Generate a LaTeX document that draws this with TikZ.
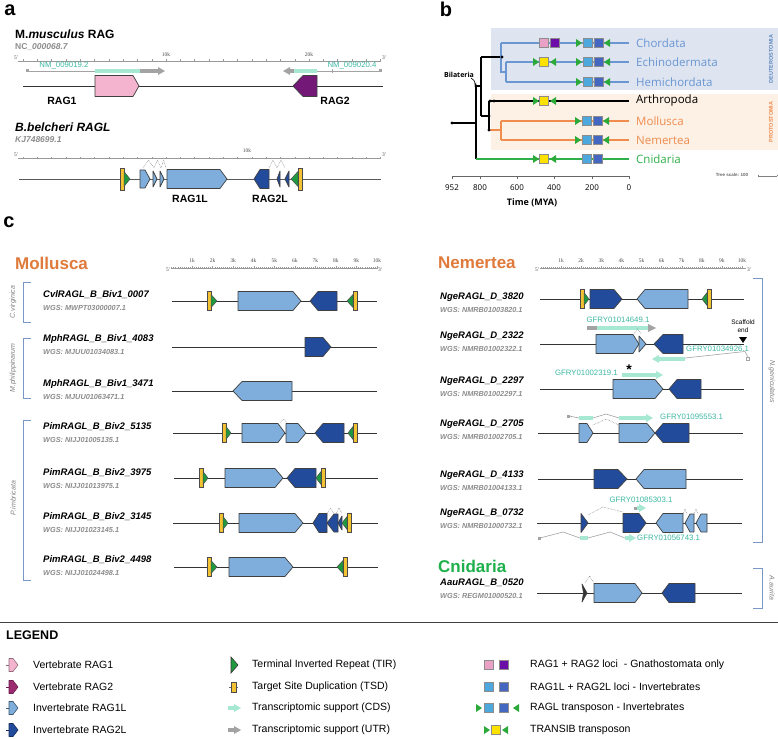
\documentclass[tikz,border=0pt]{standalone}
\usepackage{fontspec}
\setmainfont{Liberation Sans}
\newfontfamily\osans{Open Sans}
\newfontfamily\serf{Liberation Serif}
\usetikzlibrary{arrows.meta}
\definecolor{lb}{HTML}{7FAEDC}
\definecolor{db}{HTML}{234B9B}
\definecolor{pinkg}{HTML}{F4B4D0}
\definecolor{purpg}{HTML}{731877}
\definecolor{rag2i}{HTML}{9B2A6E}
\definecolor{tirg}{HTML}{1F9A3E}
\definecolor{tsdy}{HTML}{F2C233}
\definecolor{tealb}{HTML}{A6E8D2}
\definecolor{tealt}{HTML}{3DB8A2}
\definecolor{grb}{HTML}{A3A3A3}
\definecolor{sqlb}{HTML}{4CA8DD}
\definecolor{sqdb}{HTML}{4468C2}
\definecolor{sqpk}{HTML}{E9A1C8}
\definecolor{sqpu}{HTML}{6B0FA8}
\definecolor{sqye}{HTML}{FFE100}
\definecolor{trg}{HTML}{2BAA3A}
\definecolor{deut}{HTML}{6A96D2}
\definecolor{prot}{HTML}{EF8C4E}
\definecolor{cnid}{HTML}{30B04A}
\definecolor{bgb}{HTML}{DEE5F1}
\definecolor{bgo}{HTML}{FDF0E5}
\definecolor{moll}{HTML}{E07A3A}
\definecolor{cnidh}{HTML}{1DB04B}
\definecolor{brk}{HTML}{7B97C8}
\newcommand{\fsz}[1]{\fontsize{#1}{#1}\selectfont}
\newcommand{\gR}[6]{\draw[gb,fill=#6] ({#1},{#4-#5}) -- ({#3},{#4-#5}) -- ({#2},{#4}) -- ({#3},{#4+#5}) -- ({#1},{#4+#5}) -- cycle;}
\newcommand{\gL}[6]{\draw[gb,fill=#6] ({#1},{#4}) -- ({#3},{#4-#5}) -- ({#2},{#4-#5}) -- ({#2},{#4+#5}) -- ({#3},{#4+#5}) -- cycle;}
\newcommand{\tirR}[4]{\draw[tirst] ({#1},{#3-#4}) -- ({#2},{#3}) -- ({#1},{#3+#4}) -- cycle;}
\newcommand{\tirL}[4]{\draw[tirst] ({#2},{#3-#4}) -- ({#1},{#3}) -- ({#2},{#3+#4}) -- cycle;}
\newcommand{\tsdB}[4]{\draw[tsdst] ({#1},{#3-#4}) rectangle ({#2},{#3+#4});}
\newcommand{\hatD}[4]{\draw[hatst] ({#1},{#3}) -- ({(#1+#2)/2},{#4}) -- ({#2},{#3});}
\newcommand{\sqM}[3]{\draw[sqst,fill=#3] ({#1-4.6},{#2-4.6}) rectangle ({#1+4.6},{#2+4.6});}
\newcommand{\trMR}[2]{\fill[trg] ({#1-3},{#2-4}) -- ({#1+3},{#2}) -- ({#1-3},{#2+4}) -- cycle;}
\newcommand{\trML}[2]{\fill[trg] ({#1+3},{#2-4}) -- ({#1-3},{#2}) -- ({#1+3},{#2+4}) -- cycle;}
\newcommand{\tarR}[4]{\fill[#4] ({#1},{#3-1.8}) rectangle ({#2-7},{#3+1.8}); \fill[#4] ({#2-7},{#3-4}) -- ({#2},{#3}) -- ({#2-7},{#3+4}) -- cycle;}
\newcommand{\tarL}[4]{\fill[#4] ({#1+7},{#3-1.8}) rectangle ({#2},{#3+1.8}); \fill[#4] ({#1+7},{#3-4}) -- ({#1},{#3}) -- ({#1+7},{#3+4}) -- cycle;}
\newcommand{\glab}[5]{\node[glabst] (#1) at (#2,#3) {#4}; \node[wgsst] (#1w) at ({#2},{#3+12.5}) {#5};}
\newcommand{\gline}[3]{\draw[glst] ({#1},{#3}) -- ({#2},{#3});}
\begin{document}
\begin{tikzpicture}[x=1pt,y=-1pt,
  gb/.style={draw=black!75,line width=0.7pt,line join=round},
  tirst/.style={draw=black!70,line width=0.5pt,fill=tirg,line join=round},
  tsdst/.style={draw=black!70,line width=0.5pt,fill=tsdy},
  hatst/.style={draw=black!55,line width=0.5pt,densely dotted},
  sqst/.style={draw=black!45,line width=0.5pt},
  glst/.style={draw=black!80,line width=0.8pt},
  glabst/.style={anchor=west,font=\bfseries\itshape\fsz{9.5},inner sep=0pt},
  wgsst/.style={anchor=west,font=\bfseries\itshape\fsz{7.3},text=black!45,inner sep=0pt},
  tlab/.style={font=\fsz{7.8},text=tealt,inner sep=0pt},
  brkst/.style={draw=brk,line width=0.8pt},
  brklab/.style={font=\itshape\fsz{7},text=black!50,inner sep=0pt},
  treel/.style={anchor=west,font=\osans\fsz{11.5},inner sep=0pt},
  legt/.style={anchor=west,font=\fsz{10.5},inner sep=0pt},
  hdr/.style={font=\bfseries\fsz{20},inner sep=0pt},
  rul/.style={draw=black!40,line width=0.4pt},
  rlab/.style={font=\serf\fsz{5.5},text=black!70,inner sep=0pt}
]
\useasboundingbox (0,0) rectangle (778,738);
\fill[white] (0,0) rectangle (778,738);

%% ================= panel a
\node[hdr] (pa) at (10,10) {a};
\node[anchor=west,font=\bfseries\fsz{12},inner sep=0pt] (mm) at (15,34) {M.\textit{musculus} RAG};
\node[anchor=west,font=\bfseries\fsz{8.5},text=black!45,inner sep=0pt] (nc) at (15,47.5) {NC\_\textit{000068.7}};
\draw[rul] (18,61) -- (381,61);
\foreach \i in {0,...,25} \draw[rul] ({23+\i*14.3},61) -- ({23+\i*14.3},59.5);
\node[rlab] (a5) at (16,58) {5'};
\node[rlab] (a3) at (384,58) {3'};
\node[rlab] (a10) at (166,55) {10k};
\node[rlab] (a20) at (309,55) {20k};
% transcripts
\draw[grb,line width=0.7pt] (27,71) -- (95,71);
\fill[grb] (26,69.5) rectangle (29,72.5);
\fill[tealb] (95,69.2) rectangle (140,72.8);
\tarR{140}{165}{71}{grb}
\node[tlab] (nm1) at (64,66) {NM\_009019.2};
\tarL{283}{294}{71}{grb}
\fill[tealb] (294,69.2) rectangle (317,72.8);
\draw[grb,line width=0.7pt] (317,71) -- (380,71);
\draw[grb,line width=0.7pt] (332,69) -- (332,73);
\fill[grb] (378.5,69.5) rectangle (381.5,72.5);
\node[tlab] (nm2) at (352,66) {NM\_009020.4};
\gline{23}{383}{86}
\gR{95}{139}{133}{86}{10.5}{pinkg}
\gL{293}{317}{303}{86}{10.5}{purpg}
\node[font=\bfseries\fsz{10.5},inner sep=0pt] (r1) at (62,101) {RAG1};
\node[font=\bfseries\fsz{10.5},inner sep=0pt] (r2) at (335,101) {RAG2};

% B. belcheri
\node[anchor=west,font=\bfseries\itshape\fsz{12},inner sep=0pt] (bb) at (15,127) {B.belcheri RAGL};
\node[anchor=west,font=\bfseries\itshape\fsz{8.5},text=black!45,inner sep=0pt] (kj) at (15,140) {KJ748699.1};
\draw[rul] (18,158) -- (381,158);
\foreach \i in {0,...,25} \draw[rul] ({23+\i*14.3},158) -- ({23+\i*14.3},156.8);
\node[rlab] (b5) at (16,155) {5'};
\node[rlab] (b3) at (384,155) {3'};
\node[rlab] (b10) at (247,151) {10k};
\draw[draw=black!65,line width=0.9pt] (19,179) -- (381,179);
\hatD{143}{154}{168}{160}
\hatD{154}{161}{168}{160}
\hatD{161}{166}{168}{160}
\hatD{269}{277}{168}{160}
\hatD{277}{285}{168}{160}
\tsdB{120}{124}{179}{11}
\tirR{124}{130}{179}{7.5}
\gR{140}{150}{145}{179}{9}{lb}
\gR{153}{157}{153}{179}{8}{lb}
\gR{160}{164}{160}{179}{8}{lb}
\gR{167}{227}{220}{179}{9.5}{lb}
\gL{254}{269}{260}{179}{9.5}{db}
\gL{277}{280}{280}{179}{8}{db}
\gL{285}{289}{289}{179}{8}{db}
\tirL{291}{298}{179}{7.5}
\tsdB{298}{302}{179}{11}
\node[font=\bfseries\fsz{10.5},inner sep=0pt] (r1l) at (190,199) {RAG1L};
\node[font=\bfseries\fsz{10.5},inner sep=0pt] (r2l) at (270,199) {RAG2L};

%% ================= panel b
\node[hdr] (pb) at (446,9) {b};
\fill[bgb] (491,28) rectangle (778,90);
\fill[bgo] (491,94) rectangle (778,150);
\node[rotate=90,font=\bfseries\fsz{5.5},text=deut!90!black,inner sep=0pt] (deu) at (771,59) {DEUTEROSTOMIA};
\node[rotate=90,font=\bfseries\fsz{5.5},text=prot,inner sep=0pt] (pro) at (771,122) {PROTOSTOMIA};
% tree
\coordinate (root) at (452,123);
\coordinate (bil) at (476,86);
\draw[black,line width=1.1pt] (root) -- (476,123);
\draw[black,line width=1.1pt] (476,86) -- (476,159);
\draw[black,line width=1.1pt] (bil) -- (481,86) (481,57) -- (481,116);
\draw[black,line width=1.1pt] (481,57) -- (502,57);
\draw[black,line width=1.1pt] (481,116) -- (489,116) (489,101) -- (489,130);
\draw[black,line width=1.1pt] (489,101) -- (629,101);
\draw[deut,line width=1.1pt] (501,43) -- (501,72) -- (506,72) (506,62) -- (506,82);
\draw[deut,line width=1.1pt] (501,43) -- (629,43) (506,62) -- (629,62) (506,82) -- (629,82);
\draw[prot,line width=1.1pt] (489,130) -- (501,130) (501,121) -- (501,140);
\draw[prot,line width=1.1pt] (501,121) -- (629,121) (501,140) -- (629,140);
\draw[cnid,line width=1.1pt] (476,159) -- (629,159);
\foreach \p in {(452,123),(476,86),(489,116),(490,101),(494,101),(489,130),(502,57)} \fill \p circle (1.6);
\fill[deut] (512,82) circle (1.2);
\fill[prot] (512,140) circle (1.2) (515,140) circle (1.2);
\node[font=\bfseries\osans\fsz{7},inner sep=0pt] (bl) at (459,75) {Bilateria};
\draw[-{Stealth[length=3pt]},line width=0.6pt] (471,78) .. controls (474,80) .. (bil);
% markers
\sqM{544}{43}{sqpk} \sqM{555}{43}{sqpu}
\trMR{579}{43} \sqM{587.5}{43}{sqlb} \sqM{598.5}{43}{sqdb} \trML{607}{43}
\trMR{536}{62} \sqM{544}{62}{sqye} \trML{553}{62}
\trMR{579}{62} \sqM{587.5}{62}{sqlb} \sqM{598.5}{62}{sqdb} \trML{607}{62}
\trMR{579}{82} \sqM{587.5}{82}{sqlb} \sqM{598.5}{82}{sqdb} \trML{607}{82}
\trMR{536}{101} \sqM{544}{101}{sqye} \trML{553}{101}
\trMR{578}{121} \sqM{586.5}{121}{sqlb} \sqM{597.5}{121}{sqdb} \trML{606}{121}
\trMR{578}{140} \sqM{586.5}{140}{sqlb} \sqM{597.5}{140}{sqdb} \trML{606}{140}
\trMR{536}{159} \sqM{544}{159}{sqye} \trML{553}{159}
\sqM{586.5}{159}{sqlb} \sqM{597.5}{159}{sqdb}
\node[treel,text=deut] (t1) at (636,43) {Chordata};
\node[treel,text=deut] (t2) at (636,62) {Echinodermata};
\node[treel,text=deut] (t3) at (636,82) {Hemichordata};
\node[treel,text=black] (t4) at (636,101) {Arthropoda};
\node[treel,text=prot] (t5) at (636,121) {Mollusca};
\node[treel,text=prot] (t6) at (636,140) {Nemertea};
\node[treel,text=cnid] (t7) at (636,159) {Cnidaria};
% axis
\draw[black!60,line width=0.6pt] (452,176) -- (629,176);
\foreach \x/\l in {452/952,480/800,517/600,554/400,592/200,629/0} {
  \draw[black!60,line width=0.6pt] (\x,176) -- (\x,179);
  \node[font=\osans\fsz{8},inner sep=0pt] at (\x,188) {\l};
}
\node[font=\bfseries\osans\fsz{9},inner sep=0pt] (tm) at (532,203) {Time (MYA)};
\node[font=\bfseries\fsz{4.5},text=black!60,inner sep=0pt] (ts) at (732,175) {Tree scale: 100};
\draw[black!50,line width=0.4pt] (758,176) -- (777,176) (758,174.5) -- (758,176) (777,174.5) -- (777,176);

%% ================= panel c
\node[hdr] (pc) at (9,222) {c};
\node[anchor=west,font=\bfseries\fsz{17},text=moll,inner sep=0pt] (hm) at (15,263) {Mollusca};
\node[anchor=west,font=\bfseries\fsz{17},text=moll,inner sep=0pt] (hn) at (438,263) {Nemertea};
\node[anchor=west,font=\bfseries\fsz{17},text=cnidh,inner sep=0pt] (hc) at (438,566) {Cnidaria};
% rulers
\draw[rul] (171,268) -- (378,268);
\foreach \i in {0,...,100} \draw[black!40,line width=0.3pt] ({171.5+\i*2.055},268) -- ({171.5+\i*2.055},267);
\foreach \i in {1,...,10} {\draw[rul] ({171.5+\i*20.55},268) -- ({171.5+\i*20.55},265.5);
  \node[rlab] at ({171.5+\i*20.55},261) {\i k};}
\node[rlab] (m5) at (168,269.5) {5'};
\node[rlab] (m3) at (380,270) {3'};
\draw[rul] (540,268) -- (746,268);
\foreach \i in {0,...,100} \draw[black!40,line width=0.3pt] ({541+\i*2.01},268) -- ({541+\i*2.01},267);
\foreach \i in {1,...,10} {\draw[rul] ({541+\i*20.1},268) -- ({541+\i*20.1},265.5);
  \node[rlab] at ({541+\i*20.1},261) {\i k};}
\node[rlab] (n5) at (537,269.5) {5'};
\node[rlab] (n3) at (749,270) {3'};

% brackets
\draw[brkst] (31,282) -- (23,282) -- (23,322) -- (31,322);
\node[brklab,rotate=90] (bcv) at (13,302) {C.virginica};
\draw[brkst] (31,338) -- (23,338) -- (23,398) -- (31,398);
\node[brklab,rotate=90] (bmp) at (13,368) {M.philippinarum};
\draw[brkst] (31,420) -- (23,420) -- (23,580) -- (31,580);
\node[brklab,rotate=90] (bpi) at (13,498) {P.imbricata};
\draw[brkst] (753,278) -- (762,278) -- (762,542) -- (753,542);
\node[brklab,rotate=-90] (bng) at (772,382) {N.geniculatus};
\draw[brkst] (753,568) -- (762,568) -- (762,608) -- (753,608);
\node[brklab,rotate=-90] (baa) at (772,588) {A.aurita};

% Mollusca rows
\glab{c1}{43}{295}{CvlRAGL\_B\_Biv1\_0007}{WGS: MWPT03000007.1}
\gline{172}{377}{301}
\tsdB{207}{211}{301}{9.5} \tirR{211}{217}{301}{6.5}
\gR{238}{301}{293}{301}{9.5}{lb}
\gL{310}{337}{318}{301}{9.5}{db}
\tirL{347}{353}{301}{6.5} \tsdB{353}{357}{301}{9.5}

\glab{c2}{43}{339}{MphRAGL\_B\_Biv1\_4083}{WGS: MJUU01034083.1}
\gline{172}{377}{347}
\gR{305}{331}{323}{347}{9.5}{db}

\glab{c3}{43}{384}{MphRAGL\_B\_Biv1\_3471}{WGS: MJUU01063471.1}
\gline{172}{377}{391}
\gL{233}{292}{242}{391}{9.5}{lb}

\glab{c4}{43}{427}{PimRAGL\_B\_Biv2\_5135}{WGS: NIJJ01005135.1}
\gline{173}{377}{433}
\tsdB{222}{226}{433}{9.5} \tirR{226}{231}{433}{6.5}
\gR{242}{285}{278}{433}{9.5}{lb}
\hatD{280}{287}{423}{419}
\gR{286}{306}{298}{433}{9.5}{lb}
\gL{315}{344}{323}{433}{9.5}{db}
\tirL{348}{353}{433}{6.5} \tsdB{353}{357}{433}{9.5}

\glab{c5}{43}{473}{PimRAGL\_B\_Biv2\_3975}{WGS: NIJJ01013975.1}
\gline{174}{378}{478}
\tsdB{199}{203}{478}{9.5} \tirR{203}{208}{478}{6.5}
\gR{225}{283}{275}{478}{9.5}{lb}
\gL{287}{316}{295}{478}{9.5}{db}
\tirL{316}{321}{478}{6.5} \tsdB{321}{325}{478}{9.5}

\glab{c6}{43}{517}{PimRAGL\_B\_Biv2\_3145}{WGS: NIJJ01023145.1}
\gline{173}{378}{523}
\tsdB{219}{223}{523}{9.5} \tirR{223}{228}{523}{6.5}
\gR{239}{303}{295}{523}{9.5}{lb}
\hatD{327}{334}{514}{508}
\hatD{336}{342}{514}{508}
\gL{313}{327}{319}{523}{9.5}{db}
\gL{327}{338}{334}{523}{9}{db}
\gL{338}{342}{342}{523}{7}{db}
\tirL{342}{347}{523}{6.5} \tsdB{347}{351}{523}{9.5}

\glab{c7}{43}{560}{PimRAGL\_B\_Biv2\_4498}{WGS: NIJJ01024498.1}
\gline{174}{378}{567}
\tsdB{207}{211}{567}{9.5} \tirR{211}{217}{567}{6.5}
\gR{229}{293}{285}{567}{9.5}{lb}
\tirL{337}{343}{567}{6.5} \tsdB{343}{347}{567}{9.5}

% Nemertea rows
\glab{n1}{440}{297}{NgeRAGL\_D\_3820}{WGS: NMRB01003820.1}
\gline{540}{744}{299}
\tsdB{580}{584}{299}{9.5} \tirR{584}{589}{299}{6.5}
\gR{590}{622}{614}{299}{9.5}{db}
\gL{637}{688}{645}{299}{9.5}{lb}
\tirL{702}{707}{299}{6.5} \tsdB{707}{711}{299}{9.5}

\glab{n2}{440}{336}{NgeRAGL\_D\_2322}{WGS: NMRB01002322.1}
\gline{540}{744}{344}
\fill[grb] (587,326.2) rectangle (597,329.8);
\fill[tealb] (597,326.2) rectangle (648,329.8);
\fill[grb] (648,324) -- (656,328) -- (648,332) -- cycle;
\node[tlab] (g1) at (618,320) {GFRY01014649.1};
\gR{596}{639}{633}{344}{9.5}{lb}
\hatD{634}{641}{334}{329}
\gR{639}{646}{639}{344}{8}{lb}
\gL{654}{683}{663}{344}{9.5}{db}
\fill[black] (739,337) -- (747,337) -- (743,343) -- cycle;
\node[font=\fsz{6.5},inner sep=0pt] (sc1) at (743,322) {Scaffold};
\node[font=\fsz{6.5},inner sep=0pt] (sc2) at (743,330) {end};
\node[tlab,anchor=west] (g2) at (686,349) {GFRY01034926.1};
\tarL{652}{685}{359}{tealb}
\draw[grb,line width=0.6pt] (685,358) -- (745,351.5) -- (748,357);
\draw[grb,line width=0.6pt,fill=white] (746.5,357.5) rectangle (749.5,360.5);

\glab{n3}{440}{381}{NgeRAGL\_D\_2297}{WGS: NMRB01002297.1}
\gline{540}{744}{389}
\node[tlab,anchor=east] (g3) at (618,373) {GFRY01002319.1};
\node[font=\bfseries\fsz{14},inner sep=0pt] (st) at (629,370) {*};
\tarR{622}{663}{375}{tealb}
\gR{613}{663}{655}{389}{9.5}{lb}
\gL{669}{701}{677}{389}{9.5}{db}

\glab{n4}{440}{424}{NgeRAGL\_D\_2705}{WGS: NMRB01002705.1}
\gline{538}{743}{433}
\draw[grb,line width=0.6pt] (569,416) -- (579,418);
\fill[grb] (566.5,414.5) rectangle (569.5,417.5);
\fill[tealb] (579,416.2) rectangle (593,419.8);
\draw[grb,line width=0.6pt] (593,418) -- (606,414) -- (619,418);
\tarR{619}{653}{418}{tealb}
\node[tlab,anchor=west] (g4) at (660,417) {GFRY01095553.1};
\hatD{593}{619}{425}{419}
\gR{579}{593}{587}{433}{9.5}{lb}
\gR{619}{655}{647}{433}{9.5}{lb}
\gL{655}{689}{663}{433}{9.5}{db}

\glab{n5}{440}{475}{NgeRAGL\_D\_4133}{WGS: NMRB01004133.1}
\gline{538}{743}{479}
\gR{594}{627}{618}{479}{9.5}{db}
\gL{636}{686}{644}{479}{9.5}{lb}

\glab{n6}{440}{513}{NgeRAGL\_B\_0732}{WGS: NMRB01000732.1}
\gline{537}{742}{523}
\node[tlab] (g5) at (641,500) {GFRY01085303.1};
\fill[grb] (634,506.5) rectangle (637,509.5);
\tarR{637}{646}{508}{tealb}
\draw[hatst] (588,515) -- (603,507) -- (623,512);
\hatD{683}{687}{514}{509}
\hatD{694}{698}{514}{509}
\gR{581}{588}{581}{523}{9.5}{db}
\gR{623}{646}{639}{523}{9.5}{db}
\gL{656}{683}{663}{523}{9.5}{lb}
\gL{685}{694}{690}{523}{9}{lb}
\gL{696}{707}{701}{523}{9}{lb}
\fill[grb] (537.5,536.5) rectangle (540.5,539.5);
\draw[grb,line width=0.6pt] (540,538) -- (563,532) -- (580,538);
\fill[tealb] (580,536.2) rectangle (588,539.8);
\draw[grb,line width=0.6pt] (588,538) -- (610,532) -- (625,538);
\tarR{625}{636}{538}{tealb}
\node[tlab,anchor=west] (g6) at (637,538) {GFRY01056743.1};

% Cnidaria row
\glab{a1}{440}{583}{AauRAGL\_B\_0520}{WGS: REGM01000520.1}
\gline{537}{742}{593}
\hatD{585}{594}{583}{576}
\draw[gb,fill=black!80] (582,584) -- (587,593) -- (582,602) -- (583.5,593) -- cycle;
\gR{594}{642}{635}{593}{9.5}{lb}
\gL{662}{695}{669}{593}{9.5}{db}

%% ================= legend
\draw[black!75,line width=1pt] (0,622) -- (778,622);
\node[anchor=west,font=\bfseries\fsz{12.5},inner sep=0pt] (lg) at (6,635) {LEGEND};
% left column
\foreach \y/\c/\t/\d in {665/pinkg/Vertebrate RAG1/pinkg!60!black, 687/rag2i/Vertebrate RAG2/rag2i!70!black, 708/lb/Invertebrate RAG1L/lb!50!black, 730/db/Invertebrate RAG2L/db!60!black} {
  \draw[\d,line width=0.6pt] (6,\y) -- (9,\y);
  \draw[draw=\d,fill=\c,line width=0.6pt,line join=round] (9,{\y-6.5}) -- (13,{\y-6.5}) -- (18,\y) -- (13,{\y+6.5}) -- (9,{\y+6.5}) -- cycle;
  \node[legt] at (33,\y) {\t};
}
% middle column
\draw[draw=black!80,fill=tirg,line width=0.6pt] (231,657) -- (238,665) -- (231,673) -- cycle;
\node[legt] (l1) at (252,665) {Terminal Inverted Repeat (TIR)};
\draw[black!60,line width=0.6pt] (229,687) -- (238,687);
\draw[draw=black!70,fill=tsdy,line width=0.5pt] (231,682) rectangle (236,692);
\node[legt] (l2) at (252,687) {Target Site Duplication (TSD)};
\tarR{228}{241}{708}{tealb}
\node[legt] (l3) at (252,708) {Transcriptomic support (CDS)};
\tarR{228}{241}{730}{grb}
\node[legt] (l4) at (252,730) {Transcriptomic support (UTR)};
% right column
\sqM{489}{665}{sqpk} \sqM{504}{665}{sqpu}
\node[legt] (l5) at (530,665) {RAG1 + RAG2 loci\ \ - Gnathostomata only};
\sqM{489}{687}{sqlb} \sqM{504}{687}{sqdb}
\node[legt] (l6) at (530,687) {RAG1L + RAG2L loci - Invertebrates};
\trMR{479}{708} \sqM{489}{708}{sqlb} \sqM{504}{708}{sqdb} \trML{516}{708}
\node[legt] (l7) at (530,708) {RAGL transposon - Invertebrates};
\trMR{487}{730} \sqM{496}{730}{sqye} \trML{505}{730}
\node[legt] (l8) at (530,730) {TRANSIB transposon};
\end{tikzpicture}
\end{document}
